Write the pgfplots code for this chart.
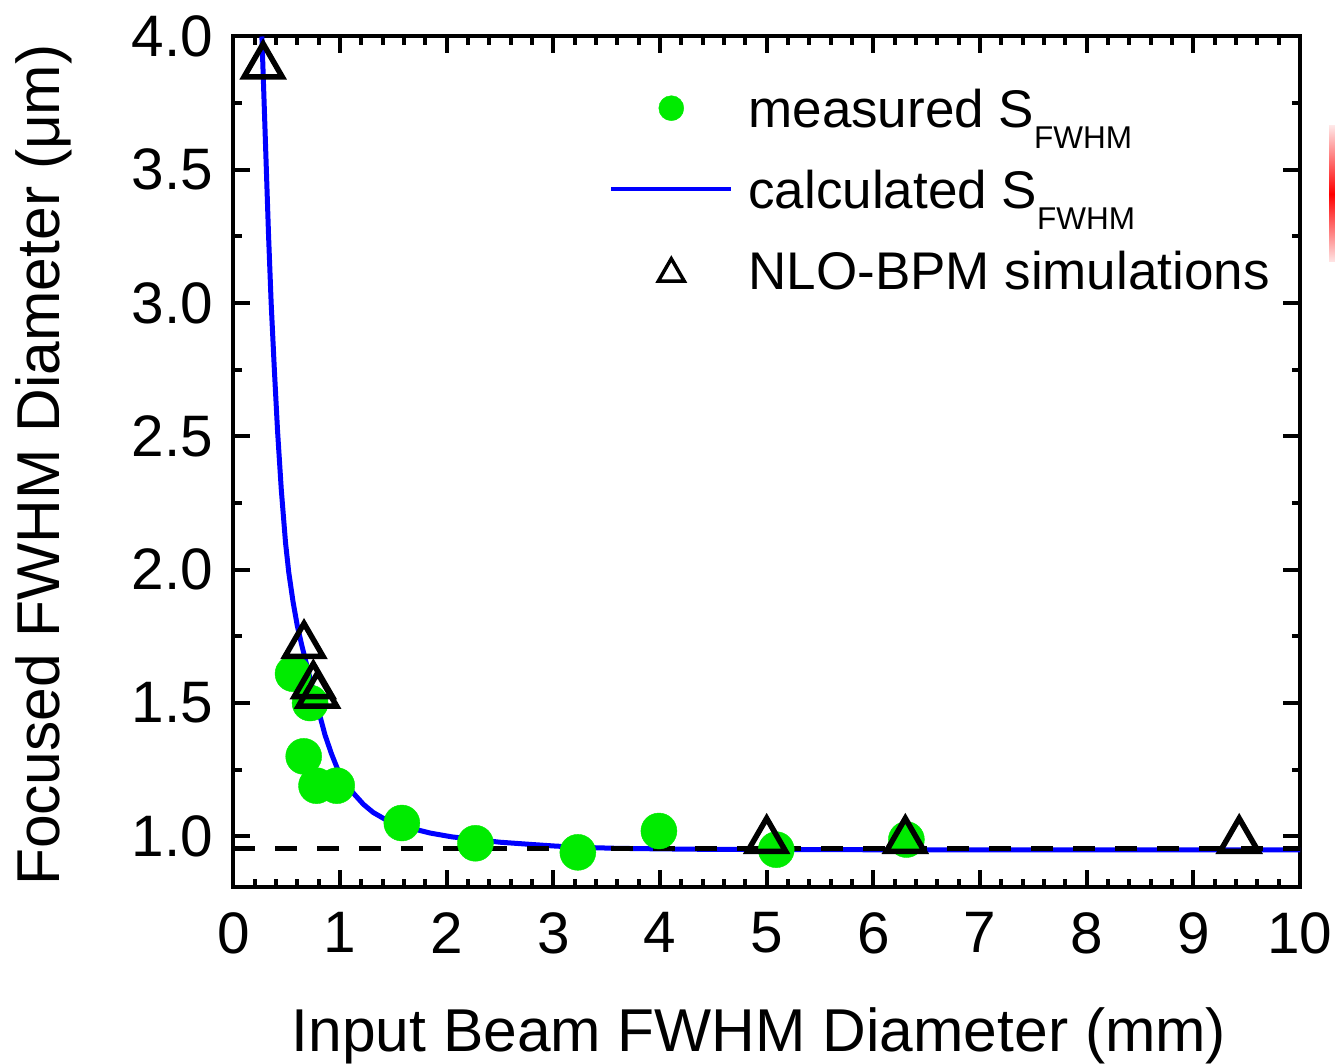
\documentclass[border=0pt]{standalone}
\usepackage{pgfplots}
\pgfplotsset{compat=1.18}
\usepackage{fontspec}
\setmainfont{Liberation Sans}
\definecolor{mgreen}{RGB}{0,235,0}
\definecolor{mblue}{RGB}{0,0,255}
\begin{document}
\begin{tikzpicture}
\begin{axis}[
  scale only axis, width=1066.7pt, height=850.5pt,
  xmin=0, xmax=10, ymin=0.81, ymax=4.0,
  xtick={0,1,2,3,4,5,6,7,8,9,10},
  ytick={1,1.5,2,2.5,3,3.5,4},
  minor x tick num=4, minor y tick num=1,
  tick align=inside,
  major tick length=17pt, minor tick length=8.5pt,
  tick style={black, line width=4pt},
  axis line style={line width=4pt},
  tick label style={font=\fontsize{58.5}{60}\selectfont},
  /pgf/number format/assume math mode=true,
  xticklabel style={inner sep=0pt, yshift=-25pt},
  yticklabel style={inner sep=0pt, xshift=-20pt, /pgf/number format/fixed, /pgf/number format/fixed zerofill, /pgf/number format/precision=1},
  xlabel={Input Beam FWHM Diameter (mm)},
  ylabel={Focused FWHM Diameter (μm)},
  label style={font=\fontsize{60.5}{62}\selectfont, inner sep=0pt},
  xlabel style={at={(axis description cs:0.4928,0)}, anchor=base, yshift=-164.5pt},
  ylabel style={at={(axis description cs:-0.1625,0.496)}, anchor=base},
  legend style={draw=none, fill=none, at={(axis description cs:0.3522,0.9465)}, anchor=north west, inner sep=0pt,
    font=\fontsize{53}{60}\selectfont,
    nodes={inner sep=0pt, text height=45pt, text depth=36pt},
    cells={anchor=base west}, row sep=0pt,
    /tikz/every odd column/.style={column sep=15pt}},
]
% measured
\addplot[only marks, mark=*, mark size=18pt, color=mgreen, mark options={fill=mgreen, draw=none},
  legend image code/.code={\fill[mgreen] (60pt,19pt) circle (12.5pt);}]
table {
x y
0.56 1.61
0.72 1.50
0.66 1.30
0.78 1.19
0.97 1.19
1.58 1.05
2.27 0.974
3.23 0.940
3.99 1.020
5.09 0.950
6.31 0.988
};
\addlegendentry{measured S\raisebox{-21pt}{\fontsize{31.5}{32}\selectfont FWHM}}
% calculated
\addplot[mblue, line width=5pt,
  legend image code/.code={\draw[mblue, line width=4.2pt] (0pt,19pt) -- (120pt,19pt);}]
table {
x y
0.268 4.00
0.28 3.86
0.29 3.74
0.30 3.62
0.31 3.50
0.33 3.26
0.355 3.00
0.385 2.75
0.415 2.52
0.45 2.30
0.49 2.10
0.52 1.99
0.56 1.88
0.60 1.79
0.64 1.72
0.69 1.64
0.74 1.56
0.80 1.47
0.86 1.38
0.92 1.31
0.98 1.25
1.05 1.20
1.13 1.16
1.22 1.12
1.31 1.09
1.44 1.06
1.58 1.04
1.72 1.025
1.85 1.012
2.05 0.998
2.27 0.988
2.50 0.978
2.78 0.970
3.00 0.964
3.23 0.959
3.60 0.955
4.00 0.953
4.50 0.951
5.50 0.950
7.00 0.949
10.0 0.949
};
\addlegendentry{calculated S\raisebox{-21pt}{\fontsize{31.5}{32}\selectfont FWHM}}
% dashed asymptote
\addplot[black, line width=4.5pt, dash pattern=on 22pt off 20pt, forget plot]
coordinates {(0,0.955) (10,0.955)};
% simulations
\addplot[only marks, mark=triangle, mark size=22pt, mark options={black, line width=5.5pt, fill=none},
  legend image code/.code={\draw[black, line width=3.5pt] (60pt,30.5pt) -- (47pt,8pt) -- (73pt,8pt) -- cycle;}]
table {
x y
0.28 3.89
0.663 1.716
0.75 1.565
0.79 1.53
5.00 0.985
6.30 0.985
9.43 0.985
};
\addlegendentry{NLO-BPM simulations}
\end{axis}
\shade[top color=red!10, bottom color=red!10, middle color=red]
  ([shift={(1095.7pt,625pt)}]current axis.south west) rectangle ++(6pt,136pt);
\pgfresetboundingbox
\path ([shift={(-233.3pt,-176pt)}]current axis.south west) rectangle ++(1335pt,1063pt);
\end{tikzpicture}
\end{document}
